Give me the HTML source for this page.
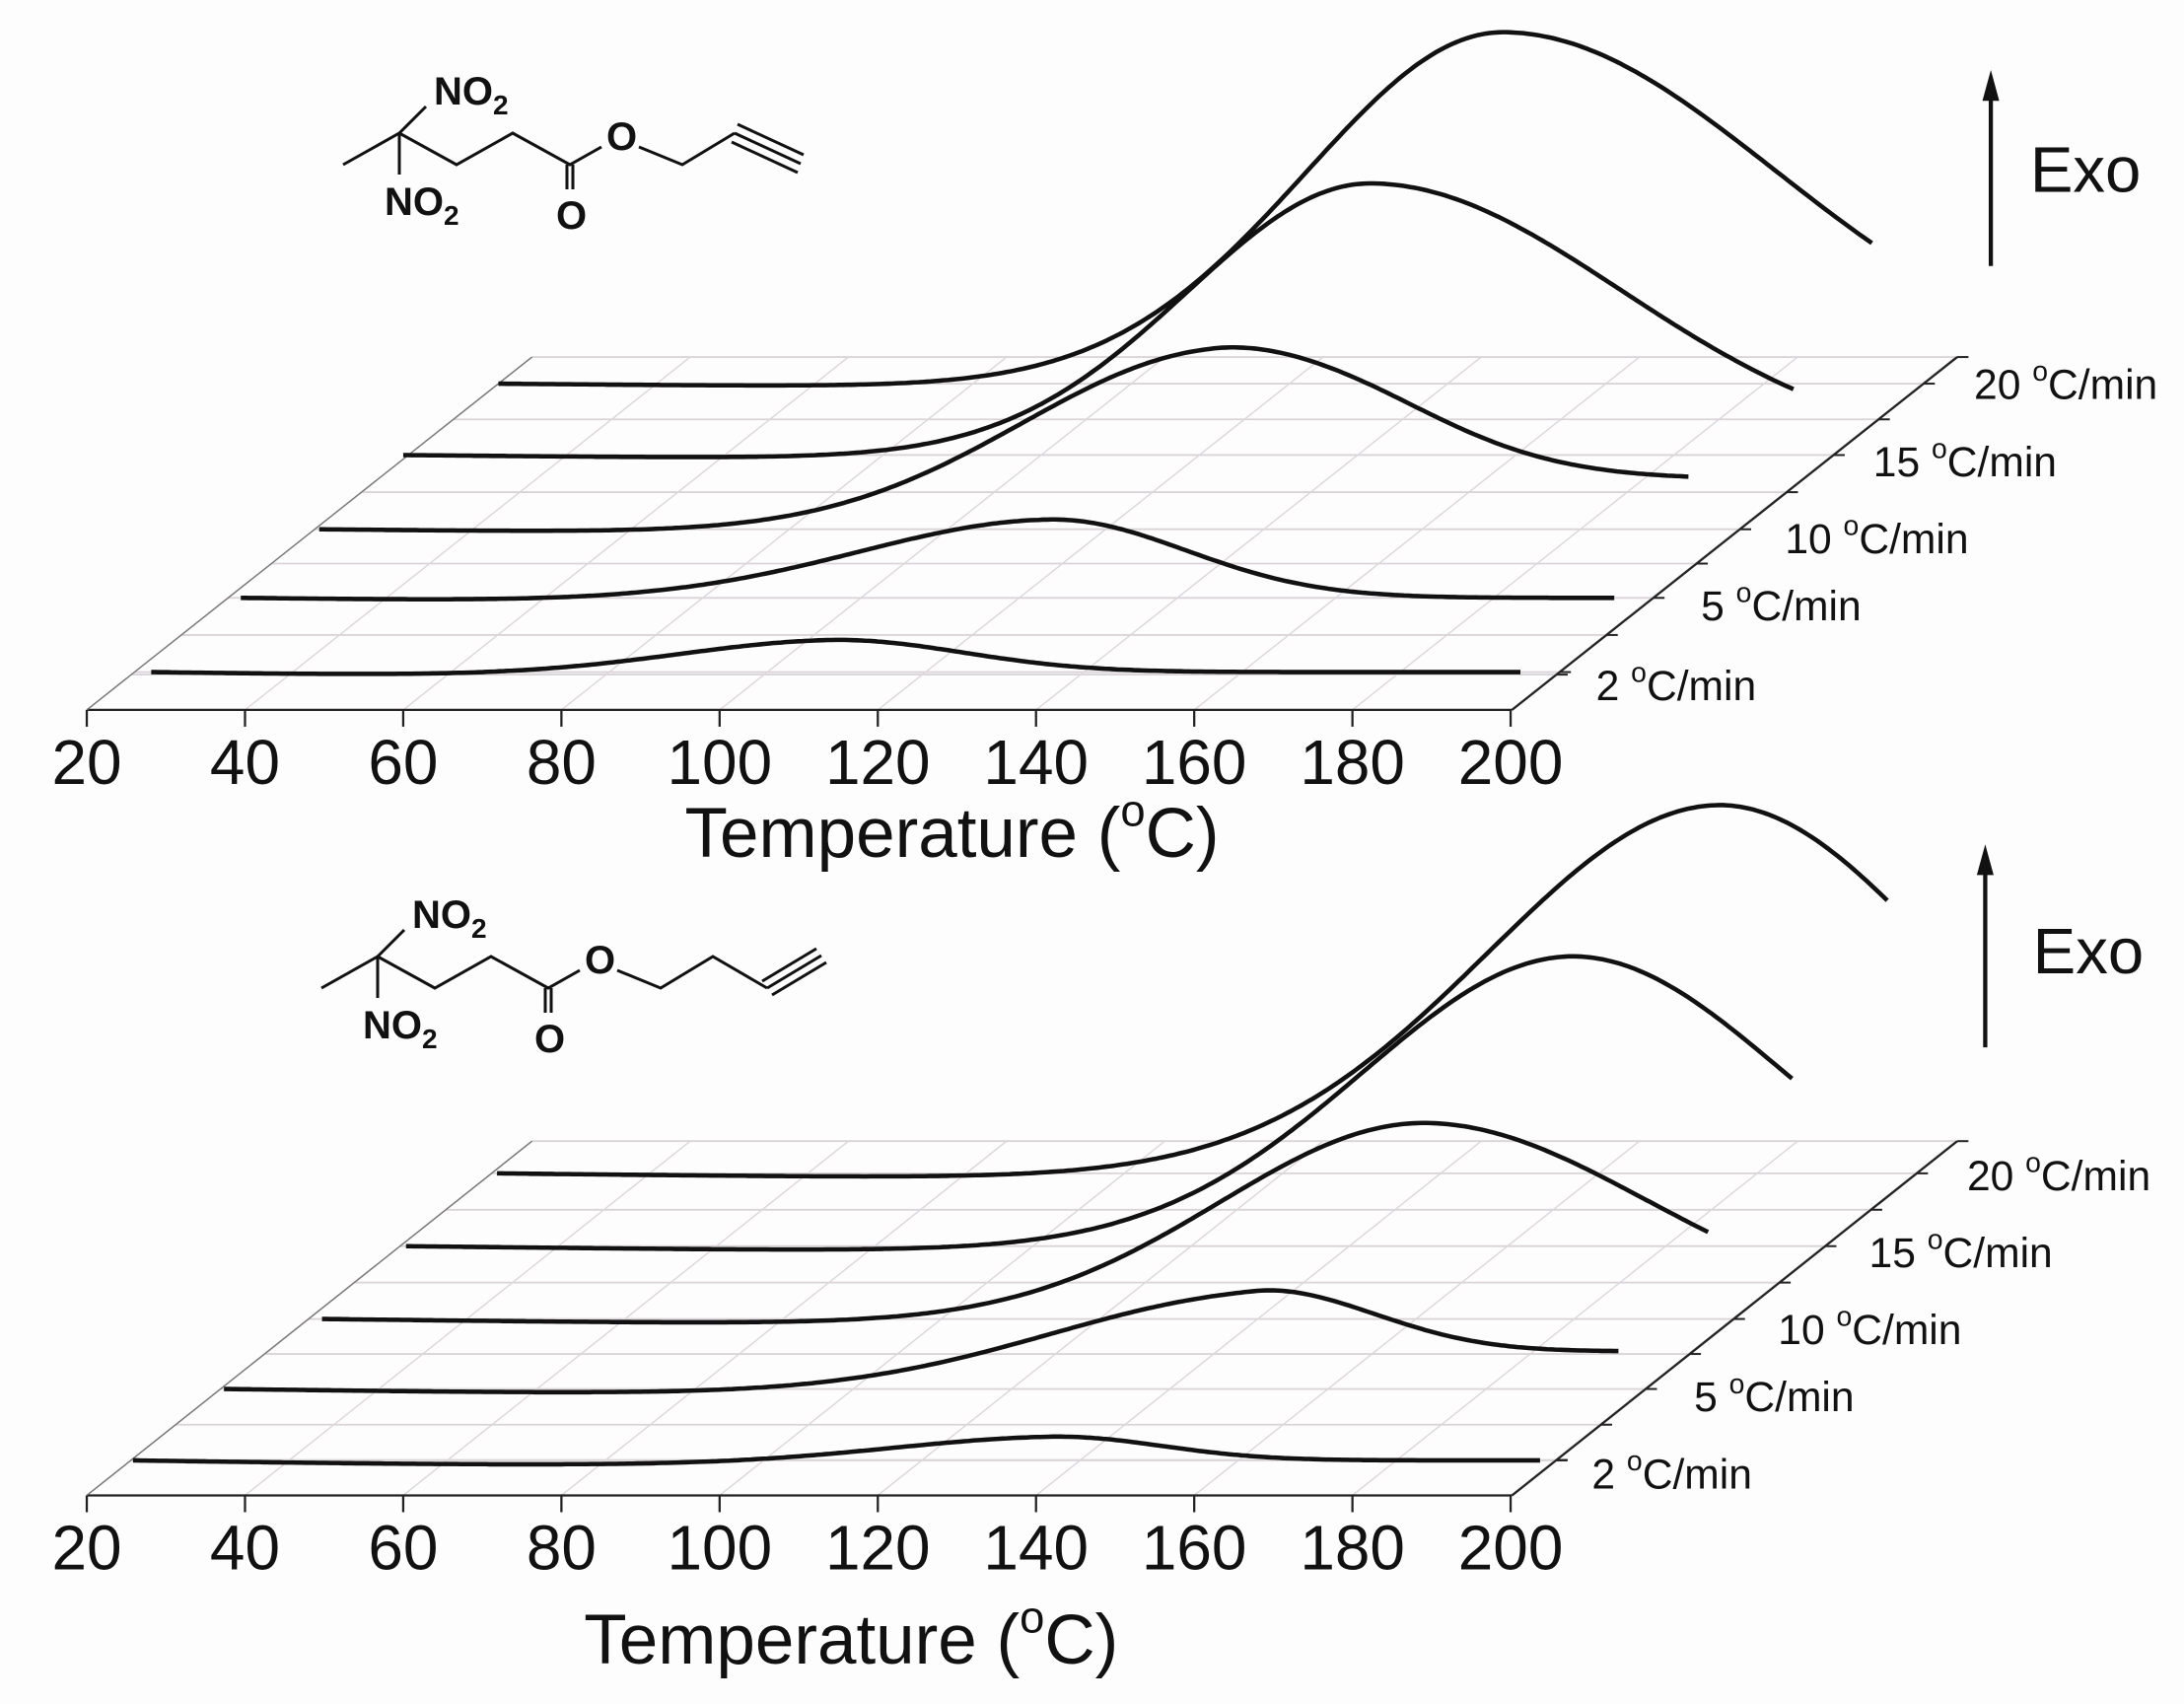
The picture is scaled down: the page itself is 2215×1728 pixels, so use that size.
<!DOCTYPE html>
<html><head><meta charset="utf-8">
<style>
html,body{margin:0;padding:0;background:#fff;}
svg{display:block;}
text{font-family:"Liberation Sans",Arial,sans-serif;fill:#111;}
</style></head>
<body>
<svg id="s" width="2215" height="1728" viewBox="0 0 2215 1728" xmlns="http://www.w3.org/2000/svg">
<rect width="2215" height="1728" fill="#fdfdfd"/>
<g id="plot" transform="scale(1.4199)"></g>
<!-- molecule top -->
<g stroke="#111" stroke-width="3" fill="none">
<polyline points="348,167 405,135 463,167 520,135 578,167 610,149"/>
<line x1="405" y1="135" x2="432" y2="108"/>
<line x1="405" y1="135" x2="405" y2="177"/>
<line x1="575" y1="167" x2="575" y2="192"/><line x1="581" y1="167" x2="581" y2="192"/>
<polyline points="648,149 692,167 745,135"/>
<line x1="745" y1="135" x2="812" y2="166"/>
<line x1="748" y1="126" x2="815" y2="157"/>
<line x1="742" y1="144" x2="809" y2="175"/>
</g>
<g font-weight="bold" font-size="40">
<text x="440" y="106">NO<tspan font-size="28" dy="10">2</tspan></text>
<text x="390" y="218">NO<tspan font-size="28" dy="10">2</tspan></text>
<text x="615" y="152">O</text>
<text x="564" y="232">O</text>
</g>
<!-- molecule bottom -->
<g transform="translate(-22,835)">
<g stroke="#111" stroke-width="3" fill="none">
<polyline points="348,167 405,135 463,167 520,135 578,167 610,149"/>
<line x1="405" y1="135" x2="432" y2="108"/>
<line x1="405" y1="135" x2="405" y2="177"/>
<line x1="575" y1="167" x2="575" y2="192"/><line x1="581" y1="167" x2="581" y2="192"/>
<polyline points="648,149 692,167 745,135 800,167"/>
<line x1="800" y1="167" x2="855" y2="134"/>
<line x1="795" y1="160" x2="850" y2="127"/>
<line x1="805" y1="174" x2="860" y2="141"/>
</g>
<g font-weight="bold" font-size="40">
<text x="440" y="106">NO<tspan font-size="28" dy="10">2</tspan></text>
<text x="390" y="218">NO<tspan font-size="28" dy="10">2</tspan></text>
<text x="615" y="152">O</text>
<text x="564" y="232">O</text>
</g>
</g>
</svg>
<script>
var NS="http://www.w3.org/2000/svg";
var g=document.getElementById("plot");
function el(t,a,txt){var e=document.createElementNS(NS,t);for(var k in a)e.setAttribute(k,a[k]);if(txt!==undefined)e.innerHTML=txt;g.appendChild(e);return e;}
function panel(fy,by,series,labels,exo,tlabel){
  var k=318/(fy-by);
  function xl(y){return 62+(fy-y)*k;}
  var ys=[];
  for(var i=0;i<series.length;i++){ys.push(series[i].y0);}
  var hs=[fy-(fy-by)*0.1];
  for(var i=0;i<ys.length;i++){hs.push(ys[i]);if(i<ys.length-1)hs.push((ys[i]+ys[i+1])/2);}
  hs.push(by);
  hs.forEach(function(y){el("line",{x1:xl(y),y1:y,x2:xl(y)+1018,y2:y,stroke:"#d9d4d8","stroke-width":1.3});});
  for(var t=0;t<=9;t++){var x=62+t*113;
    el("line",{x1:x,y1:fy,x2:x+318,y2:by,stroke:"#ddd6da","stroke-width":1});}
  el("line",{x1:62,y1:fy,x2:1080,y2:fy,stroke:"#222","stroke-width":1.6});
  el("line",{x1:62,y1:fy,x2:380,y2:by,stroke:"#777","stroke-width":1});
  el("line",{x1:1080,y1:fy,x2:1398,y2:by,stroke:"#222","stroke-width":1.6});
  for(var t=0;t<=9;t++){var x=62+t*113.0;
    el("line",{x1:x,y1:fy,x2:x,y2:fy+12,stroke:"#222","stroke-width":1.6});
    el("text",{x:x,y:fy+53,"font-size":45,"text-anchor":"middle"},String(20+t*20));}
  hs.forEach(function(y){var x=xl(y)+1018;el("line",{x1:x,y1:y,x2:x+8,y2:y,stroke:"#222","stroke-width":1.4});});
  labels.forEach(function(L){el("text",{x:L[0],y:L[1],"font-size":30},L[2]+' <tspan font-size="20" dy="-13">o</tspan><tspan dy="13">C/min</tspan>');});
  el("text",{x:tlabel[0],y:tlabel[1],"font-size":50,"text-anchor":"middle"},'Temperature (<tspan font-size="32" dy="-22">o</tspan><tspan dy="22">C)</tspan>');
  el("line",{x1:exo[0],y1:exo[1],x2:exo[0],y2:exo[2]+15,stroke:"#111","stroke-width":3});
  el("polygon",{points:(exo[0]-6)+","+(exo[2]+22)+" "+(exo[0]+6)+","+(exo[2]+22)+" "+exo[0]+","+exo[2],fill:"#111"});
  el("text",{x:exo[3],y:exo[4],"font-size":46},"Exo");
  series.forEach(function(s){
    var d="";
    for(var x=s.x0;x<=s.x1;x+=3){
      var sg=x<s.c?s.sl:s.sr;
      var y=s.y0+(s.sag||0)*Math.sin(Math.PI*Math.min(1,(x-s.x0)/((s.c-s.x0)||1)))-s.a*Math.exp(-0.5*Math.pow((x-s.c)/sg,2));
      if(s.sh)y+=s.sh/(1+Math.exp(-(x-s.c-(s.so||0))/40));
      d+=(d?"L":"M")+x.toFixed(1)+","+y.toFixed(1);
    }
    el("path",{d:d,fill:"none",stroke:"#111","stroke-width":3.2,"stroke-linejoin":"round"});
  });
}
panel(507,255,[
 {y0:480,x0:108,x1:1088,c:598,a:23,sl:115,sr:90,sag:2},
 {y0:427,x0:172,x1:1155,c:752,a:56,sl:140,sr:95,sag:2},
 {y0:378,x0:228,x1:1207,c:868,a:125,sl:140,sr:115,sh:-36,so:80,sag:2},
 {y0:325,x0:288,x1:1282,c:978,a:194,sl:130,sr:180,sag:2},
 {y0:274,x0:356,x1:1338,c:1073,a:251,sl:140,sr:195,sag:2}
],[[1140,500,"2"],[1215,443,"5"],[1275,395,"10"],[1338,340,"15"],[1410,285,"20"]],[1422,190,50,1450,137],[680,612]);
panel(1068,815,[
 {y0:1043,x0:95,x1:1100,c:755,a:17,sl:120,sr:75,sag:3},
 {y0:992,x0:160,x1:1158,c:897,a:66,sl:150,sr:80,sh:-27,so:70,sag:3},
 {y0:942,x0:230,x1:1220,c:1016,a:140,sl:145,sr:160,sag:3},
 {y0:890,x0:290,x1:1280,c:1123,a:207,sl:150,sr:150,sag:3},
 {y0:838,x0:355,x1:1350,c:1228,a:263,sl:165,sr:155,sag:3}
],[[1137,1063,"2"],[1210,1008,"5"],[1270,960,"10"],[1335,905,"15"],[1405,850,"20"]],[1418,748,603,1452,695],[608,1188]);
</script>
</body></html>
